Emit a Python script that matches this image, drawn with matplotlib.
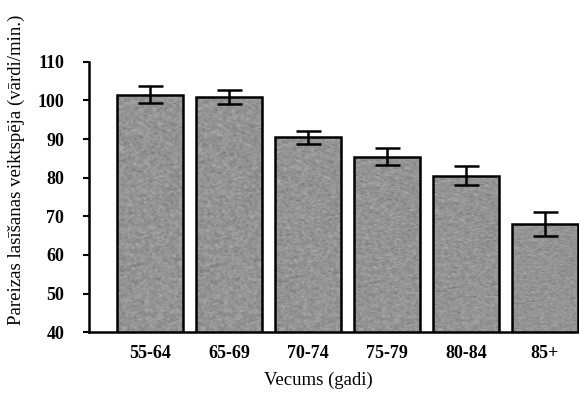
import numpy as np
import matplotlib.pyplot as plt

# Vecuma grupas un vidējā lasīšanas veiktspēja
vecuma_grupas = ['55-64', '65-69', '70-74', '75-79', '80-84', '85+']
veiktspeja = [101.5, 101.0, 90.5, 85.4, 80.5, 68.0]
kludas = [2.2, 1.8, 1.7, 2.2, 2.4, 3.2]

plt.rcParams['font.family'] = ['Liberation Serif', 'DejaVu Serif']

fig = plt.figure(figsize=(5.79, 3.94), dpi=100)
ax = fig.add_axes([0.154, 0.157, 0.846, 0.686])

x = np.arange(len(vecuma_grupas))
bars = ax.bar(x, veiktspeja, width=0.83, bottom=0, color='#8e8e8e',
              edgecolor='black', linewidth=1.8, zorder=2)

# graudaina pelēka tekstūra stabiņos (nedaudz izsmērēta horizontāli)
rng = np.random.default_rng(3)
troksnis = rng.normal(0.0, 1.0, size=(140, 96))
kodols = np.ones(4) / 4
troksnis = np.apply_along_axis(lambda r: np.convolve(r, kodols, mode='same'), 1, troksnis)
tekstura = 0.58 + 0.07 * troksnis
for b in bars:
    bx, by = b.get_x(), 40
    im = ax.imshow(tekstura, cmap='gray', vmin=0, vmax=1, aspect='auto',
                   extent=(bx, bx + b.get_width(), by, b.get_height()),
                   interpolation='bilinear', zorder=2.5)
    im.set_clip_path(b)
    b.set_facecolor('none')
    b.set_zorder(3)

ax.errorbar(x, veiktspeja, yerr=kludas, fmt='none', ecolor='black',
            elinewidth=1.8, capsize=9, capthick=1.8, zorder=4)

ax.set_xlim(-0.77, 5.43)
ax.set_ylim(40, 110)
ax.set_yticks(range(40, 111, 10))
ax.set_xticks(x)
ax.set_xticklabels(vecuma_grupas, fontsize=13, fontweight='bold')
ax.tick_params(axis='x', length=0, pad=9)
ax.tick_params(axis='y', length=4, width=1.5, labelsize=13, pad=14)
for lbl in ax.get_yticklabels():
    lbl.set_fontweight('bold')

for s in ['top', 'right']:
    ax.spines[s].set_visible(False)
ax.spines['left'].set_linewidth(1.8)
ax.spines['bottom'].set_linewidth(1.8)

ax.set_xlabel('Vecums (gadi)', fontsize=13.5)
ax.xaxis.set_label_coords(0.468, -0.145)
ax.set_ylabel('Pareizas lasīšanas veiktspēja (vārdi/min.)', fontsize=13.5)
ax.yaxis.set_label_coords(-0.132, 0.6)

fig.savefig('out.png', dpi=100)
